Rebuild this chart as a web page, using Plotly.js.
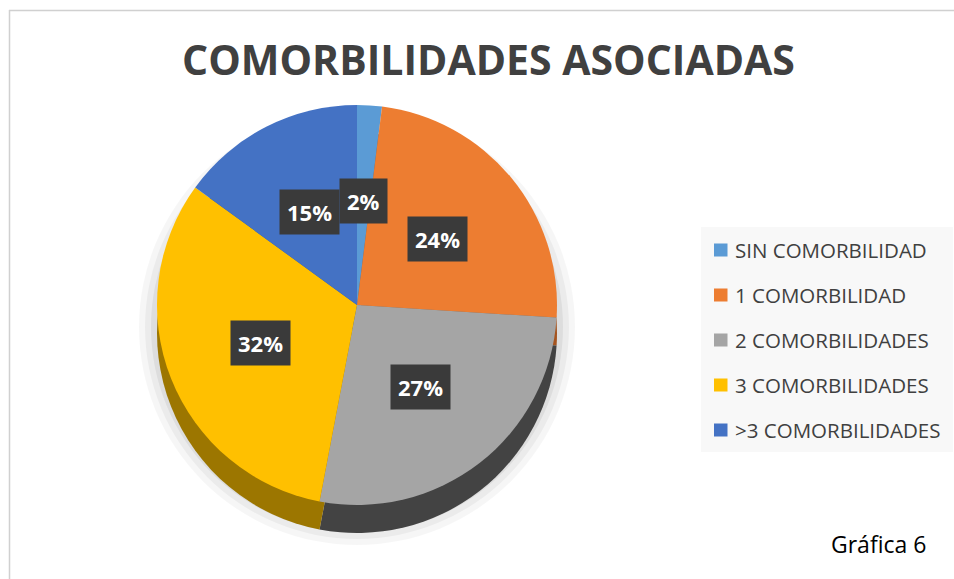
<!DOCTYPE html>
<html>
<head>
<meta charset="utf-8">
<script src="https://cdn.plot.ly/plotly-3.0.1.min.js"></script>
<style>html,body{margin:0;padding:0;background:#fff;}#chart{width:954px;height:579px;}</style>
</head>
<body>
<div id="chart"></div>
<script>
const categories = ['SIN COMORBILIDAD', '1 COMORBILIDAD', '2 COMORBILIDADES', '3 COMORBILIDADES', '>3 COMORBILIDADES'];
const values = [2, 24, 27, 32, 15];
const percentLabels = ['2%', '24%', '27%', '32%', '15%'];
const topColors = ['#5B9BD5', '#ED7D31', '#A5A5A5', '#FFC000', '#4472C4'];
const sideColors = ['#3B6E9C', '#A5541F', '#434343', '#9C7600', '#2F5496'];
const chartTitle = 'COMORBILIDADES ASOCIADAS';
const footnote = 'Gráfica 6';

const W = 954, H = 579;
const cx = 357, cy = 305, R = 200, depth = 28;

function dom(x, y, r) {
  return { x: [(x - r) / W, (x + r) / W], y: [1 - (y + r) / H, 1 - (y - r) / H] };
}
function px(x) { return x / W; }
function py(y) { return 1 - y / H; }

const base = {
  type: 'pie', sort: false, direction: 'clockwise', rotation: 0,
  textinfo: 'none', hoverinfo: 'none', showlegend: false
};

const traces = [];
// soft shadow layers
[[R + 18, 0.035], [R + 12, 0.045], [R + 6, 0.06]].forEach(function (s) {
  traces.push(Object.assign({}, base, {
    values: [1], labels: ['shadow'],
    marker: { colors: ['rgba(0,0,0,' + s[1] + ')'], line: { width: 0 } },
    domain: dom(cx, cy + depth / 2 + 8, s[0])
  }));
});
// side (extrusion)
traces.push(Object.assign({}, base, {
  values: values, labels: categories,
  marker: { colors: sideColors, line: { width: 0 } },
  domain: dom(cx, cy + depth, R)
}));
// top face
traces.push(Object.assign({}, base, {
  values: values, labels: categories,
  marker: { colors: topColors, line: { width: 0 } },
  domain: dom(cx, cy, R)
}));

const annotations = [];
const shapes = [];
const total = values.reduce(function (a, b) { return a + b; }, 0);
let cum = 0;
const f = 0.52;
values.forEach(function (v, i) {
  const th = 2 * Math.PI * (cum + v / 2) / total;
  cum += v;
  annotations.push({
    xref: 'paper', yref: 'paper',
    x: px(cx + f * R * Math.sin(th)), y: py(cy - f * R * Math.cos(th)),
    text: '<b>' + percentLabels[i] + '</b>', showarrow: false,
    font: { family: 'Open Sans', size: 22, color: '#FFFFFF' },
    bgcolor: '#3A3A3A', borderpad: 7, xanchor: 'center', yanchor: 'middle'
  });
});

// legend background
shapes.push({ type: 'rect', xref: 'paper', yref: 'paper', x0: px(701), x1: px(953), y0: py(452), y1: py(227),
  fillcolor: '#F8F8F8', line: { width: 0 }, layer: 'below' });
categories.forEach(function (c, i) {
  const y = 250 + 45 * i;
  shapes.push({ type: 'rect', xref: 'paper', yref: 'paper', x0: px(714), x1: px(727.5), y0: py(y + 6.5), y1: py(y - 6.5),
    fillcolor: topColors[i], line: { width: 0 } });
  annotations.push({ xref: 'paper', yref: 'paper', x: px(733), y: py(y), xanchor: 'left', yanchor: 'middle',
    text: c, showarrow: false, font: { family: 'Open Sans', size: 20.5, color: '#404040' } });
});

// border (top and left visible)
shapes.push({ type: 'line', xref: 'paper', yref: 'paper', x0: px(9), x1: px(960), y0: py(10.5), y1: py(10.5),
  line: { color: '#D0D0D0', width: 1.5 } });
shapes.push({ type: 'line', xref: 'paper', yref: 'paper', x0: px(9.5), x1: px(9.5), y0: py(10), y1: py(590),
  line: { color: '#D0D0D0', width: 1.5 } });

annotations.push({ xref: 'paper', yref: 'paper', x: px(878), y: py(544), xanchor: 'center', yanchor: 'middle',
  text: footnote, showarrow: false, font: { family: 'Open Sans', size: 23, color: '#000000' } });

const layout = {
  width: W, height: H,
  margin: { l: 0, r: 0, t: 0, b: 0 },
  paper_bgcolor: '#FFFFFF',
  showlegend: false,
  title: { text: '<b>' + chartTitle + '</b>', x: px(488.5), xanchor: 'center', xref: 'paper',
    y: py(61), yref: 'container', yanchor: 'middle',
    font: { family: 'Open Sans', size: 41, color: '#404040' } },
  annotations: annotations,
  shapes: shapes
};

Plotly.newPlot('chart', traces, layout, { displayModeBar: false, staticPlot: true });
</script>
</body>
</html>
